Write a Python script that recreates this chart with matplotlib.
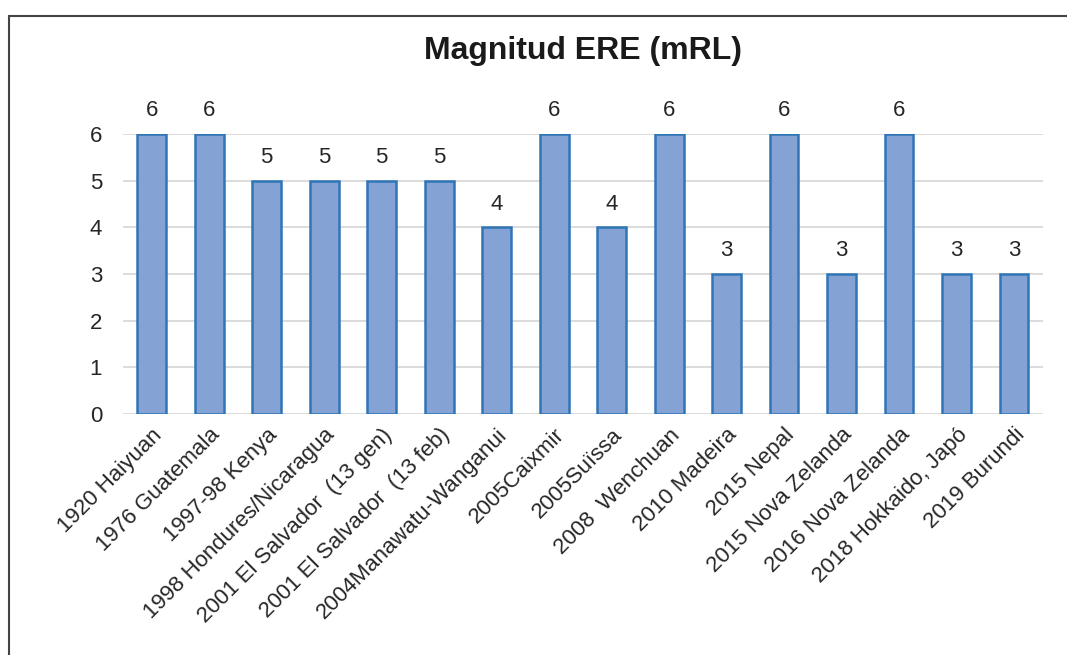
import matplotlib.pyplot as plt
from matplotlib.patches import Rectangle

plt.rcParams['font.family'] = ['Liberation Sans', 'DejaVu Sans']

labels = ['1920 Haiyuan', '1976 Guatemala', '1997-98 Kenya', '1998 Hondures/Nicaragua',
          '2001 El Salvador  (13 gen)', '2001 El Salvador  (13 feb)', '2004Manawatu-Wanganui',
          '2005Caixmir', '2005Suïssa', '2008  Wenchuan', '2010 Madeira', '2015 Nepal',
          '2015 Nova Zelanda', '2016 Nova Zelanda', '2018 Hokkaido, Japó', '2019 Burundi']
values = [6, 6, 5, 5, 5, 5, 4, 6, 4, 6, 3, 6, 3, 6, 3, 3]

fig = plt.figure(figsize=(10.67, 6.55), dpi=100)
ax = fig.add_axes([0.1153, 0.368, 0.862, 0.4275])

x = range(len(values))
ax.bar(x, values, width=0.5, color='#84A2D4', edgecolor='#2E75B6', linewidth=1.8, zorder=3)
for xi, v in zip(x, values):
    ax.text(xi, v + 0.27, str(v), ha='center', va='bottom', fontsize=16, color='#262626')

ax.set_xlim(-0.5, len(values) - 0.5)
ax.set_ylim(0, 6)
ax.set_yticks(range(0, 7))
ax.yaxis.grid(True, color='#D9D9D9', linewidth=1.3, zorder=0)
ax.tick_params(axis='both', length=0, labelsize=16, colors='#262626')
ax.tick_params(axis='y', pad=15)
ax.set_xticks(list(x))
ax.set_xticklabels(labels, rotation=45, ha='right', rotation_mode='anchor')
for t in ax.get_xticklabels():
    t.set_y(-0.02)
for s in ax.spines.values():
    s.set_visible(False)

ax.set_title('Magnitud ERE (mRL)', fontsize=23, fontweight='bold', color='#1a1a1a', pad=54)

# chart frame
fig.patches.append(Rectangle((9 / 1067, -0.05), 1.2, 1 - 16 / 655 + 0.05,
                             transform=fig.transFigure, fill=False,
                             edgecolor='#444444', linewidth=1.5))

fig.savefig('out.png', dpi=100)
